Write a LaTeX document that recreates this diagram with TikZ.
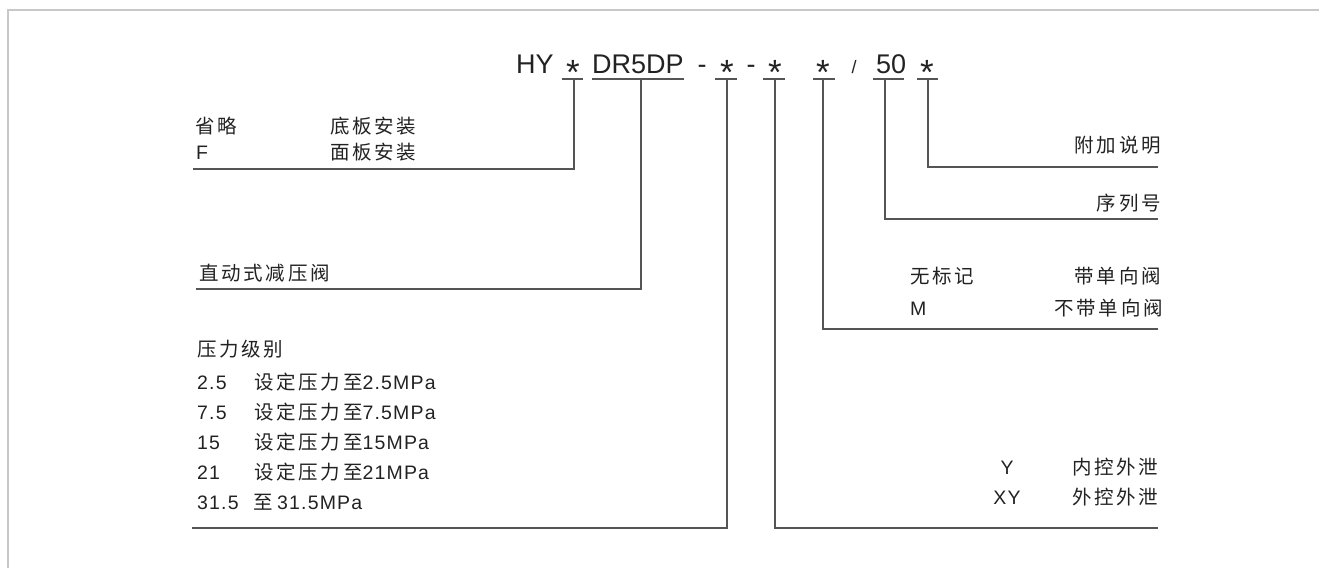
\documentclass[tikz,border=0pt]{standalone}
\usepackage{fontspec}
\setmainfont[LetterSpace=6]{Liberation Sans}
\newfontfamily\titlefont{Liberation Sans}
\newfontfamily\cjk[LetterSpace=14]{Noto Sans CJK SC}
\newcommand{\zh}[1]{{\cjk #1}}
\newcommand{\starg}{\raisebox{-11pt}{\fontsize{35}{35}\selectfont *}}
\definecolor{txt}{HTML}{222222}
\definecolor{ln}{HTML}{555555}
\definecolor{frm}{HTML}{C8C8C8}
\begin{document}
\begin{tikzpicture}[x=1pt,y=-1pt,
  lbl/.style={inner sep=0pt, text=txt, font=\fontsize{19.5}{19.5}\selectfont},
  ttl/.style={inner sep=0pt, text=txt, font=\titlefont\fontsize{27}{27}\selectfont},
  conn/.style={draw=ln, line width=1.2pt},
  uline/.style={draw=ln, line width=1.2pt}]
\useasboundingbox (0,0) rectangle (1319,568);
\draw[frm, line width=2pt] (8,568) -- (8,10) -- (1319,10);

% title
\node[ttl, anchor=base west] (hy) at (516,73) {HY};
\node[ttl, anchor=base] (s1) at (573,73) {\starg};
\node[ttl, anchor=base west] (dr) at (592,73) {DR5DP};
\node[ttl, anchor=base] (d1) at (702,73) {-};
\node[ttl, anchor=base] (s2) at (727,73) {\starg};
\node[ttl, anchor=base] (d2) at (751,73) {-};
\node[ttl, anchor=base] (s3) at (775,73) {\starg};
\node[ttl, anchor=base] (s4) at (823,73) {\starg};
\node[ttl, anchor=base, font=\titlefont\fontsize{18}{18}\selectfont] (sl) at (854,73) {/};
\node[ttl, anchor=base west] (n50) at (876,73) {50};
\node[ttl, anchor=base] (s5) at (927,73) {\starg};

% underlines
\draw[uline] (562,79) -- (583,79);
\draw[uline] (592,79) -- (684,79);
\draw[uline] (715,79) -- (737,79);
\draw[uline] (763,79) -- (785,79);
\draw[uline] (813,79) -- (835,79);
\draw[uline] (873,79) -- (904,79);
\draw[uline] (917,79) -- (938,79);

% tick tops
\coordinate (k1) at (574,79);
\coordinate (k2) at (641,79);
\coordinate (k3) at (727,79);
\coordinate (k4) at (775,79);
\coordinate (k5) at (823,79);
\coordinate (k6) at (885,79);
\coordinate (k7) at (928,79);
% line ends
\coordinate (e1) at (193,169);
\coordinate (e2) at (196,289);
\coordinate (e3) at (192,528);
\coordinate (e4) at (1158,528);
\coordinate (e5) at (1158,329);
\coordinate (e6) at (1158,219);
\coordinate (e7) at (1158,167);

\draw[conn] (k1) |- (e1);
\draw[conn] (k2) |- (e2);
\draw[conn] (k3) |- (e3);
\draw[conn] (k4) |- (e4);
\draw[conn] (k5) |- (e5);
\draw[conn] (k6) |- (e6);
\draw[conn] (k7) |- (e7);

% left labels
\node[lbl, anchor=base west] (a1) at (195,133) {\zh{省略}};
\node[lbl, anchor=base west] (a2) at (330,133) {\zh{底板安装}};
\node[lbl, anchor=base west] (a3) at (196,159) {F};
\node[lbl, anchor=base west] (a4) at (330,159) {\zh{面板安装}};
\node[lbl, anchor=base west] (b1) at (199,280) {\zh{直动式减压阀}};
\node[lbl, anchor=base west] (c0) at (197,356) {\zh{压力级别}};
\node[lbl, anchor=base west] (c1) at (197,389) {2.5};
\node[lbl, anchor=base west] (c1t) at (254,389) {\zh{设定压力至}2.5MPa};
\node[lbl, anchor=base west] (c2) at (197,419) {7.5};
\node[lbl, anchor=base west] (c2t) at (254,419) {\zh{设定压力至}7.5MPa};
\node[lbl, anchor=base west] (c3) at (197,449) {15};
\node[lbl, anchor=base west] (c3t) at (254,449) {\zh{设定压力至}15MPa};
\node[lbl, anchor=base west] (c4) at (197,479) {21};
\node[lbl, anchor=base west] (c4t) at (254,479) {\zh{设定压力至}21MPa};
\node[lbl, anchor=base west] (c5) at (197,509) {31.5};
\node[lbl, anchor=base west] (c5z) at (253,509) {\zh{至}};
\node[lbl, anchor=base west] (c5t) at (277,509) {31.5MPa};

% right labels
\node[lbl, anchor=base east] (r1) at (1161,152) {\zh{附加说明}};
\node[lbl, anchor=base east] (r2) at (1161,210) {\zh{序列号}};
\node[lbl, anchor=base west] (r3) at (910,283) {\zh{无标记}};
\node[lbl, anchor=base east] (r3t) at (1161,283) {\zh{带单向阀}};
\node[lbl, anchor=base west] (r4) at (910,315) {M};
\node[lbl, anchor=base east] (r4t) at (1163,315) {\zh{不带单向阀}};
\node[lbl, anchor=base] (r5) at (1007,474) {Y};
\node[lbl, anchor=base west] (r5t) at (1072,474) {\zh{内控外泄}};
\node[lbl, anchor=base] (r6) at (1007,504) {XY};
\node[lbl, anchor=base west] (r6t) at (1072,504) {\zh{外控外泄}};
\end{tikzpicture}
\end{document}
